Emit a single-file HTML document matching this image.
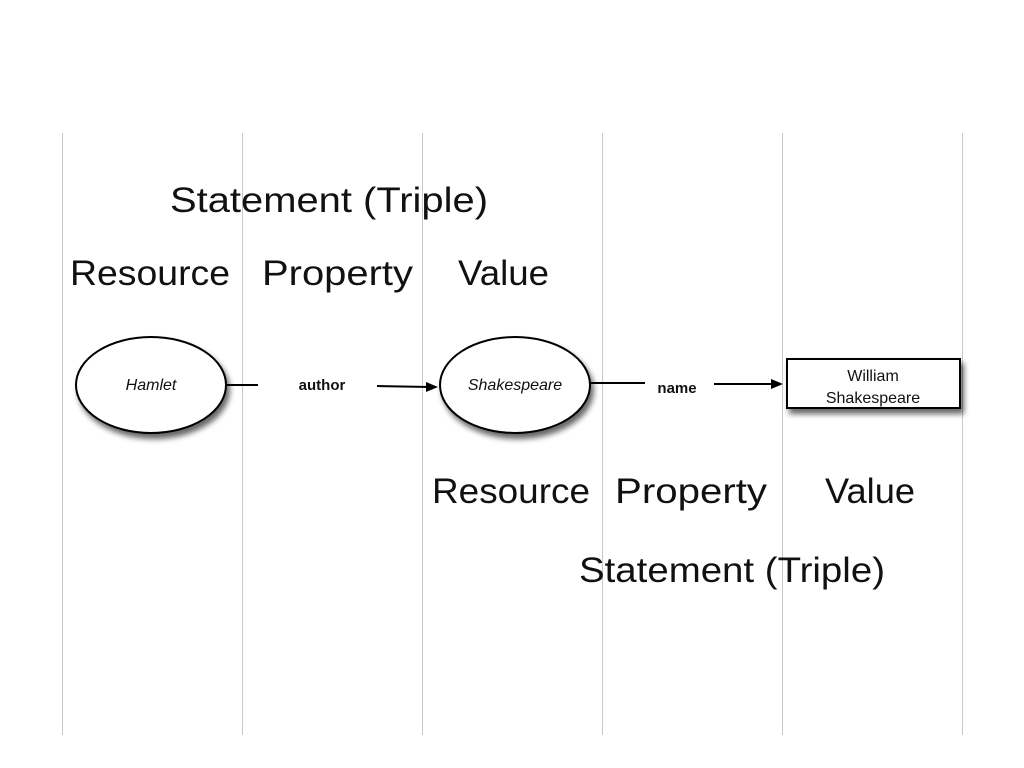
<!DOCTYPE html>
<html><head><meta charset="utf-8"><style>html,body{margin:0;padding:0;background:#fff}svg{display:block}</style></head>
<body>
<svg width="1024" height="768" viewBox="0 0 1024 768" xmlns="http://www.w3.org/2000/svg">
<defs>
<filter id="sh" x="-20%" y="-20%" width="150%" height="160%"><feGaussianBlur in="SourceAlpha" stdDeviation="3"/><feOffset dx="3" dy="5"/><feComponentTransfer><feFuncA type="linear" slope="0.6"/></feComponentTransfer><feMerge><feMergeNode/><feMergeNode in="SourceGraphic"/></feMerge></filter>
</defs>
<g stroke="#c8c8c8" stroke-width="1">
<line x1="62.5" y1="133" x2="62.5" y2="735"/>
<line x1="242.5" y1="133" x2="242.5" y2="735"/>
<line x1="422.5" y1="133" x2="422.5" y2="735"/>
<line x1="602.5" y1="133" x2="602.5" y2="735"/>
<line x1="782.5" y1="133" x2="782.5" y2="735"/>
<line x1="962.5" y1="133" x2="962.5" y2="735"/>
</g>
<g font-family="Liberation Sans, sans-serif" font-size="35" fill="#111">
<text x="170" y="212" textLength="318" lengthAdjust="spacingAndGlyphs">Statement  (Triple)</text>
<text x="70" y="285" textLength="160" lengthAdjust="spacingAndGlyphs">Resource</text>
<text x="262" y="285" textLength="151" lengthAdjust="spacingAndGlyphs">Property</text>
<text x="458" y="285" textLength="91" lengthAdjust="spacingAndGlyphs">Value</text>
<text x="432" y="503" textLength="158" lengthAdjust="spacingAndGlyphs">Resource</text>
<text x="615" y="503" textLength="152" lengthAdjust="spacingAndGlyphs">Property</text>
<text x="825" y="503" textLength="90" lengthAdjust="spacingAndGlyphs">Value</text>
<text x="579" y="582" textLength="306" lengthAdjust="spacingAndGlyphs">Statement (Triple)</text>
</g>
<g stroke="#000" stroke-width="2" fill="#fff">
<ellipse cx="151" cy="385" rx="75" ry="48" filter="url(#sh)"/>
<ellipse cx="515" cy="385" rx="75" ry="48" filter="url(#sh)"/>
<rect x="787" y="359" width="173" height="49" filter="url(#sh)"/>
<line x1="226" y1="385" x2="258" y2="385"/>
<line x1="377" y1="386" x2="430" y2="387"/>
<line x1="590" y1="383" x2="645" y2="383"/>
<line x1="714" y1="384" x2="775" y2="384"/>
</g>
<polygon points="438,387 426,382 426,392" fill="#000"/>
<polygon points="783,384 771,379 771,389" fill="#000"/>
<g font-family="Liberation Sans, sans-serif" font-size="16" fill="#111" text-anchor="middle">
<text x="151" y="390" font-style="italic">Hamlet</text>
<text x="515" y="390" font-style="italic">Shakespeare</text>
<text x="322" y="390" font-weight="bold" font-size="15">author</text>
<text x="677" y="393" font-weight="bold" font-size="15">name</text>
<text x="873" y="381">William</text>
<text x="873" y="403">Shakespeare</text>
</g>
</svg>
</body></html>
